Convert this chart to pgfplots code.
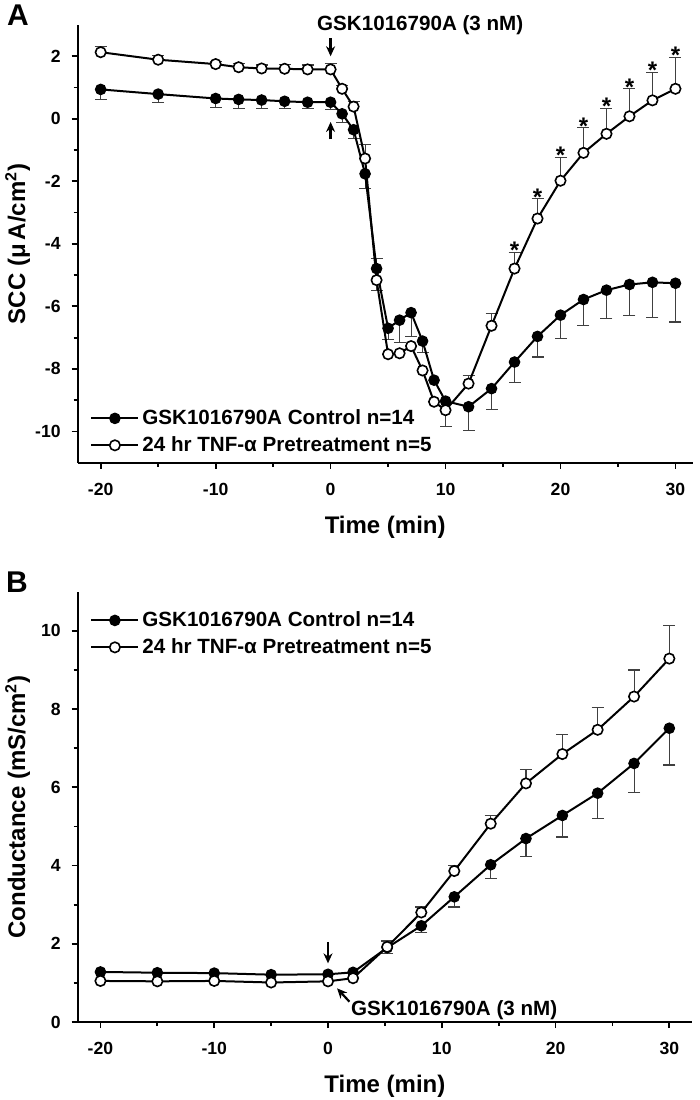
\documentclass[border=0pt]{standalone}
\usepackage{pgfplots}
\usepackage{pgfplotstable}
\pgfplotsset{compat=1.18}
\usetikzlibrary{arrows.meta}
\usepackage{fontspec}
\setmainfont{Liberation Sans}

% ---------- Panel A data ----------
\pgfplotstableread{
t v
-20 0.94
-15 0.79
-10 0.65
-8 0.62
-6 0.60
-4 0.56
-2 0.53
0 0.53
1 0.16
2 -0.35
3 -1.76
4 -4.79
5 -6.70
6 -6.44
7 -6.20
8 -7.11
9 -8.36
10 -9.03
12 -9.21
14 -8.63
16 -7.78
18 -6.96
20 -6.28
22 -5.78
24 -5.48
26 -5.30
28 -5.23
30 -5.26
}\Actrl
\pgfplotstableread{
t v e
-20 0.94 0.31
-15 0.79 0.26
-10 0.65 0.28
-8 0.62 0.29
-6 0.60 0.28
-4 0.56 0.24
-2 0.53 0.21
0 0.53 0.23
1 0.16 0.27
2 -0.35 0.29
3 -1.76 0.46
5 -6.70 0.35
6 -6.44 0.72
7 -6.20 0.75
8 -7.11 0.37
12 -9.21 0.75
14 -8.63 0.66
16 -7.78 0.66
18 -6.96 0.66
20 -6.28 0.74
22 -5.78 0.84
24 -5.48 0.92
26 -5.30 1.00
28 -5.23 1.13
30 -5.26 1.24
}\ActrlDn
\pgfplotstableread{
t v e
4 -4.79 0.32
}\ActrlUp
\pgfplotstableread{
t v
-20 2.13
-15 1.89
-10 1.75
-8 1.65
-6 1.61
-4 1.60
-2 1.58
0 1.58
1 0.96
2 0.39
3 -1.27
4 -5.16
5 -7.53
6 -7.50
7 -7.27
8 -8.05
9 -9.05
10 -9.32
12 -8.47
14 -6.62
16 -4.79
18 -3.19
20 -1.98
22 -1.09
24 -0.48
26 0.08
28 0.59
30 0.96
}\Atnf
\pgfplotstableread{
t v e
-20 2.13 0.19
-15 1.89 0.14
-10 1.75 0.08
-8 1.65 0.13
-6 1.61 0.11
-4 1.60 0.14
-2 1.58 0.14
0 1.58 0.18
1 0.96 0.11
2 0.39 0.16
3 -1.27 0.45
12 -8.47 0.27
14 -6.62 0.40
16 -4.79 0.52
18 -3.19 0.63
20 -1.98 0.75
22 -1.09 0.80
24 -0.48 0.82
26 0.08 0.88
28 0.59 0.90
30 0.96 1.01
}\AtnfUp
\pgfplotstableread{
t v e
4 -5.16 0.33
10 -9.32 0.53
}\AtnfDn
\pgfplotstableread{
t v
16 -4.27
18 -2.56
20 -1.23
22 -0.29
24 0.34
26 0.96
28 1.49
30 1.97
}\Astars

% ---------- Panel B data ----------
\pgfplotstableread{
t v
-20 1.28
-15 1.26
-10 1.25
-5 1.21
0 1.22
2.2 1.27
5.2 1.90
8.2 2.46
11.1 3.20
14.3 4.02
17.4 4.69
20.6 5.28
23.7 5.85
26.9 6.61
30 7.51
}\Bctrl
\pgfplotstableread{
t v e
5.2 1.90 0.15
8.2 2.46 0.17
11.1 3.20 0.26
14.3 4.02 0.35
17.4 4.69 0.47
20.6 5.28 0.55
23.7 5.85 0.65
26.9 6.61 0.75
30 7.51 0.94
}\BctrlDn
\pgfplotstableread{
t v
-20 1.05
-15 1.04
-10 1.05
-5 1.01
0 1.04
2.2 1.12
5.2 1.92
8.2 2.80
11.1 3.86
14.3 5.07
17.4 6.10
20.6 6.85
23.7 7.47
26.9 8.32
30 9.29
}\Btnf
\pgfplotstableread{
t v e
5.2 1.92 0.15
8.2 2.80 0.14
11.1 3.86 0.14
14.3 5.07 0.21
17.4 6.10 0.35
20.6 6.85 0.51
23.7 7.47 0.57
26.9 8.32 0.68
30 9.29 0.84
}\BtnfUp

\tikzset{arr/.style={-{Stealth[length=5pt,width=4.5pt]}, line width=1.1pt}}

\pgfplotsset{
 myaxis/.style={
  scale only axis, axis lines*=left,
  axis line style={line width=1pt},
  tick align=outside, major tick length=3pt, minor tick length=2pt,
  every tick/.style={black, line width=0.9pt},
  minor x tick num=1, minor y tick num=1,
  tick label style={font=\fontsize{8.8}{10}\selectfont\bfseries},
  x tick label style={yshift=-3.5pt},
  y tick label style={xshift=-2pt},
  /pgf/number format/assume math mode=true,
  label style={font=\fontsize{12}{14}\selectfont\bfseries},
  clip=false,
  legend cell align=left,
  legend style={draw=none, fill=none, font=\fontsize{10.3}{12}\selectfont\bfseries,
    anchor=north west, inner sep=0pt, row sep=1.5pt,
    nodes={inner sep=1.5pt}},
  legend image code/.code={\draw[mark repeat=2, mark phase=2, ##1] plot coordinates {(0pt,0pt) (11.75pt,0pt) (23.5pt,0pt)};},
 },
 ctrl/.style={black, line width=1pt, mark=*, mark size=2.6pt, mark options={fill=black, line width=0.6pt}},
 tnf/.style={black, line width=1pt, mark=*, mark size=2.6pt, mark options={fill=white, draw=black, line width=0.8pt}},
 ebar/.style={only marks, mark=none, forget plot,
   error bars/.cd, y dir=#1, y explicit,
   error bar style={black!75, line width=0.55pt},
   error mark options={black!75, line width=0.55pt, mark size=3pt, rotate=90}},
}

\begin{document}
\begin{tikzpicture}[font=\bfseries]
\path[use as bounding box] (0,0) rectangle (350pt,-550pt);

\node[font=\fontsize{15}{18}\selectfont\bfseries] at (9pt,-7.5pt) {A};
\node[font=\fontsize{15}{18}\selectfont\bfseries] at (8.5pt,-291.3pt) {B};

% ---------------- Panel A ----------------
\begin{axis}[myaxis, at={(38.85pt,-12.5pt)}, anchor=north west,
  width=307.5pt, height=218.85pt,
  xmin=-22, xmax=31.5, ymin=-11, ymax=3,
  xtick={-20,-10,...,30}, ytick={-10,-8,...,2},
  xlabel={Time (min)}, ylabel={SCC (μ\,A/cm\textsuperscript{2})},
  x label style={at={(axis description cs:0.5,-0.148)}, anchor=center},
  y label style={at={(axis description cs:-0.0976,0.5)}, anchor=center},
  legend style={at={(axis description cs:0.02,0.1295)}},
]
\addplot[ebar=minus] table[x=t,y=v,y error=e] {\ActrlDn};
\addplot[ebar=plus] table[x=t,y=v,y error=e] {\ActrlUp};
\addplot[ebar=plus] table[x=t,y=v,y error=e] {\AtnfUp};
\addplot[ebar=minus] table[x=t,y=v,y error=e] {\AtnfDn};
\addplot[ctrl] table[x=t,y=v] {\Actrl};
\addlegendentry{GSK1016790A Control n=14}
\addplot[tnf] table[x=t,y=v] {\Atnf};
\addlegendentry{24 hr TNF-α Pretreatment n=5}
\addplot[only marks, mark=none, forget plot,
  nodes near coords={*},
  every node near coord/.style={anchor=base, yshift=-3.3pt, inner sep=0pt, font=\fontsize{12}{14}\selectfont\bfseries}]
  table[x=t,y=v] {\Astars};
\node[font=\fontsize{10.3}{12}\selectfont\bfseries] at (axis cs:7.8,3.0) {GSK1016790A (3 nM)};
\draw[arr] (axis cs:0,2.58) -- (axis cs:0,2.0);
\draw[arr] (axis cs:0,-0.66) -- (axis cs:0,-0.1);
\end{axis}

% ---------------- Panel B ----------------
\begin{axis}[myaxis, at={(38.85pt,-295.85pt)}, anchor=north west,
  width=307.2pt, height=215.15pt,
  xmin=-22, xmax=32, ymin=0, ymax=11,
  xtick={-20,-10,...,30}, ytick={0,2,...,10},
  xlabel={Time (min)}, ylabel={Conductance (mS/cm\textsuperscript{2})},
  x label style={at={(axis description cs:0.5,-0.150)}, anchor=center},
  y label style={at={(axis description cs:-0.0976,0.5)}, anchor=center},
  legend style={at={(axis description cs:0.02,0.962)}},
]
\addplot[ebar=minus] table[x=t,y=v,y error=e] {\BctrlDn};
\addplot[ebar=plus] table[x=t,y=v,y error=e] {\BtnfUp};
\addplot[ctrl] table[x=t,y=v] {\Bctrl};
\addlegendentry{GSK1016790A Control n=14}
\addplot[tnf] table[x=t,y=v] {\Btnf};
\addlegendentry{24 hr TNF-α Pretreatment n=5}
\draw[arr] (axis cs:0,2.05) -- (axis cs:0,1.50);
\draw[arr] (axis cs:1.88,0.52) -- (axis cs:0.8,0.86);
\node[anchor=west, inner sep=0pt, font=\fontsize{10.3}{12}\selectfont\bfseries] at (axis cs:2.0,0.31) {GSK1016790A (3 nM)};
\end{axis}
\end{tikzpicture}
\end{document}
